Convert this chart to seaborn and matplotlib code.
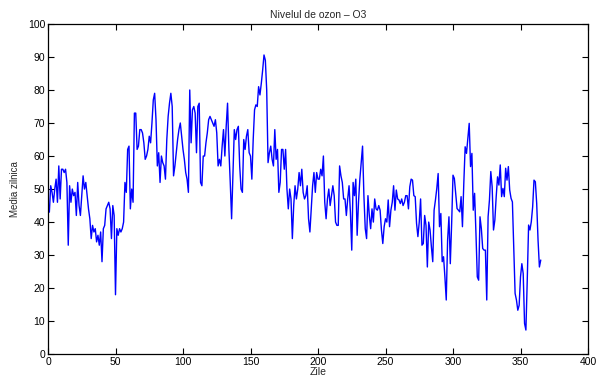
import numpy as np
import pandas as pd
import matplotlib
matplotlib.use("Agg")
import matplotlib.pyplot as plt
import seaborn as sns

seg_a = [43, 51, 49, 46, 50, 53, 46, 57, 47, 56, 56, 55, 56, 52, 33, 51, 46, 50, 48, 49,
         42, 52, 45, 42, 48, 54, 50, 52, 48, 44, 41, 35, 39, 37, 38, 34, 36, 33, 37, 28, 38]
seg_b = [39, 44, 45, 46, 44, 35, 45, 42, 18, 38, 36, 38, 37, 38, 40, 52, 49, 62, 63, 44,
         50, 46, 73, 73, 62, 63, 68, 68, 67, 64, 59, 60, 62, 66, 64, 70, 77, 79, 71, 57, 61]
seg_c = [52, 60, 58, 57, 53, 65, 72, 76, 79, 75, 54, 57, 61, 65, 68, 70, 66, 62, 59, 55,
         53, 49, 80, 64, 74, 75, 73, 61, 75, 76, 52, 51, 60, 60, 64, 67, 71, 72, 71, 70, 69]
seg_d = [71, 67, 57, 59, 57, 63, 68, 60, 69, 76, 62, 52, 41, 54, 68, 65, 68, 69, 57, 50,
         49, 65, 62, 66, 68, 61, 60, 53, 65, 74, 75.5, 75, 81, 78.5, 82, 86, 90.6, 89, 80, 58]
seg_e = [61, 63, 59, 57, 68, 59, 62, 49, 52, 62, 62, 56, 62, 50, 44, 50, 47, 35, 45, 51,
         47, 50, 55, 51, 56, 49, 47, 48, 51, 41, 37, 44, 51, 55, 49, 55, 53, 53, 56, 54]
seg_f = [60, 46, 41, 47, 50, 45, 48, 51, 48, 40, 39, 39, 57, 54, 52, 47, 47, 42, 47, 51,
         43, 31.5, 52, 48, 53, 36, 46, 53, 58, 63, 48, 38, 35, 48, 42, 38, 44, 40, 47, 44]
seg_g = [43.6, 45, 43.6, 37.6, 33.5, 38.6, 41, 40, 46.7, 38.6, 43.6, 46, 51, 43.6, 49.7,
         47, 46.7, 45.6, 47, 45, 46, 48, 48, 44, 50.7, 53, 52.7, 48, 47.7, 39.6, 35.6, 40,
         47, 33, 33.5, 42, 39, 26.4, 40, 37.6, 32.5]
seg_h = [28, 43.6, 46.7, 50.2, 54.7, 38.6, 42.6, 28, 29.5, 23.4, 16.4, 34.5, 41.6, 27.4,
         39.6, 54.2, 53.2, 48.7, 44.1, 43.6, 43.1, 47.7, 38.6, 51.7, 62.8, 60.8, 65.3, 69.9,
         56.8, 60.8, 43.6, 48.7, 36.6, 23.4, 22.4, 41.6, 38, 32, 31.5, 31.5, 16.4]
seg_i = [41.6, 46.7, 55.3, 50.7, 37.6, 40.6, 47.7, 53.7, 51.2, 57.3, 47.7, 50.2, 47.7,
         56.3, 52.7, 56.8, 49.7, 47.2, 46.1, 32.5, 18.4, 16.4, 13.3, 14.8, 23.4, 27.4, 24.4,
         9.3, 7.3, 22.4, 39.1, 37.6, 40.1, 44.6, 52.7, 52.2, 45.6, 34.5, 26.4, 28.5]

ozone = seg_a + seg_b + seg_c + seg_d + seg_e + seg_f + seg_g + seg_h + seg_i
days = np.arange(1, len(ozone) + 1)

x_ticks = [0, 50, 100, 150, 200, 250, 300, 350, 400]
y_ticks = [0, 10, 20, 30, 40, 50, 60, 70, 80, 90, 100]

title = "Nivelul de ozon \u2013 O3"
xlabel = "Zile"
ylabel = "Media zilnica"

sns.set_style("ticks", {
    "xtick.direction": "in", "ytick.direction": "in",
    "xtick.top": True, "ytick.right": True,
})
plt.rcParams["font.family"] = ["Liberation Sans", "DejaVu Sans"]

df = pd.DataFrame({"Zile": days, "Ozon": ozone})

fig = plt.figure(figsize=(6.0, 3.8), dpi=100)
ax = fig.add_axes([0.08, 0.068, 0.90, 0.869])
sns.lineplot(data=df, x="Zile", y="Ozon", ax=ax, color=(0, 0, 1), linewidth=1.0)

ax.set_xlim(0, 400)
ax.set_ylim(0, 100)
ax.set_xticks(x_ticks)
ax.set_yticks(y_ticks)
ax.tick_params(axis="both", which="both", direction="in", top=True, right=True,
               labelsize=7.5, length=4, width=0.8, pad=2, colors="black")
for s in ax.spines.values():
    s.set_visible(True)
    s.set_linewidth(0.9)
    s.set_color("black")
ax.set_title(title, fontsize=7.5, pad=4)
ax.set_xlabel(xlabel, fontsize=7.5, labelpad=0)
ax.set_ylabel(ylabel, fontsize=7, labelpad=6)

fig.savefig("out.png", dpi=100, facecolor="white")
